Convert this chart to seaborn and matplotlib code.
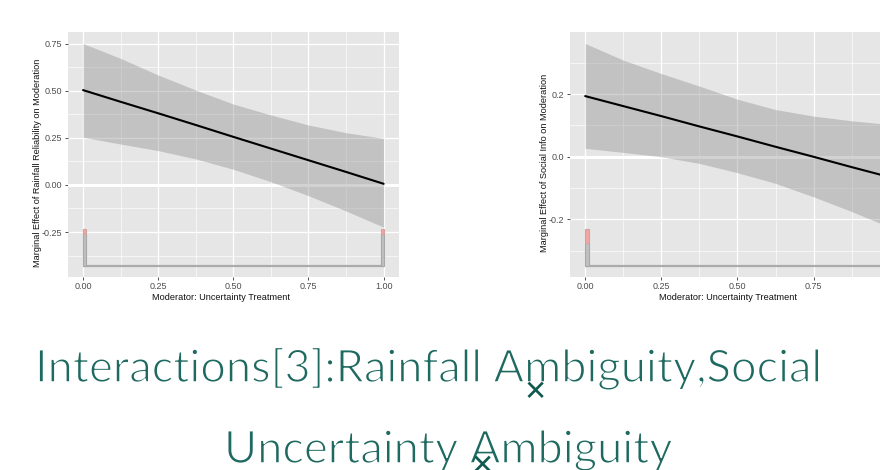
import numpy as np
import seaborn as sns
import matplotlib.pyplot as plt
import matplotlib.patheffects as pe
from matplotlib.ticker import MultipleLocator, FixedLocator

# moderator grid (Uncertainty Treatment)
x_grid = [0.0, 0.125, 0.25, 0.375, 0.5, 0.625, 0.75, 0.875, 1.0]

# panel 1: marginal effect of rainfall reliability
rain_est = [0.503, 0.441, 0.380, 0.318, 0.255, 0.193, 0.131, 0.069, 0.006]
rain_upper = [0.750, 0.671, 0.583, 0.503, 0.429, 0.371, 0.318, 0.277, 0.247]
rain_lower = [0.253, 0.217, 0.182, 0.138, 0.083, 0.017, -0.057, -0.138, -0.224]

# panel 2: marginal effect of social info
social_est = [0.194, 0.162, 0.130, 0.097, 0.065, 0.032, 0.000, -0.033, -0.065]
social_upper = [0.362, 0.309, 0.266, 0.226, 0.184, 0.151, 0.130, 0.115, 0.103]
social_lower = [0.027, 0.014, 0.000, -0.021, -0.051, -0.085, -0.128, -0.175, -0.225]

# moderator histogram (only two treatment values observed)
hist_left = [0.00, 0.99]
rain_count_grey = [175, 175]
rain_count_red = [30, 30]
social_count_grey = [106, 106]
social_count_red = [69, 69]

title_line1 = "Interactions[3]:Rainfall Ambiguity,Social"
title_line2 = "Uncertainty Ambiguity"
xlabel = "Moderator: Uncertainty Treatment"
ylabel1 = "Marginal Effect of Rainfall Reliability on Moderation"
ylabel2 = "Marginal Effect of Social Info on Moderation"

sns.set_theme(style="darkgrid")
plt.rcParams["font.family"] = ["Liberation Sans", "DejaVu Sans"]
plt.rcParams["axes.unicode_minus"] = False

PANEL_BG = "#E6E6E6"
TEAL = "#1F6A60"


def draw_panel(ax, est, upper, lower, cnt_grey, cnt_red, ylab, major, minor,
               fmt, xlab_pos, ylab_pos):
    ax.set_facecolor(PANEL_BG)
    ci_range = max(upper) - min(lower)
    base = min(lower) - 0.21 * ci_range
    totals = np.array(cnt_grey) + np.array(cnt_red)
    scale = 0.2 * ci_range / totals.max()

    ax.axhline(0, color="white", lw=2.2, zorder=0.8)
    ax.fill_between(x_grid, lower, upper, color="#7F7F7F", alpha=0.35,
                    lw=0, zorder=1)
    sns.lineplot(x=x_grid, y=est, color="black", lw=1.5, ax=ax, zorder=3)

    bw = 0.011
    ax.hlines(base, min(x_grid), max(x_grid), color="#ABABAB", lw=1.6, zorder=2)
    g = np.array(cnt_grey) * scale
    r = np.array(cnt_red) * scale
    ax.bar(hist_left, g, width=bw, bottom=base, align="edge",
           color="#C0C0C0", edgecolor="#A8A8A8", lw=0.8, zorder=2)
    ax.bar(hist_left, r, width=bw, bottom=base + g, align="edge",
           color="#F2A5A5", edgecolor="#D7A0A0", lw=0.8, zorder=2)

    lo, hi = base, max(upper)
    pad = 0.05 * (hi - lo)
    ax.set_ylim(lo - pad, hi + pad)
    ax.set_xlim(-0.05, 1.05)

    ax.xaxis.set_major_locator(FixedLocator([0, 0.25, 0.5, 0.75, 1.0]))
    ax.xaxis.set_minor_locator(MultipleLocator(0.125))
    ax.yaxis.set_major_locator(MultipleLocator(major))
    ax.yaxis.set_minor_locator(MultipleLocator(minor))
    ax.set_xticklabels(["0.00", "0.25", "0.50", "0.75", "1.00"])
    ax.yaxis.set_major_formatter(plt.FuncFormatter(lambda v, p: fmt.format(v)))

    ax.grid(which="major", color="white", lw=0.9)
    ax.grid(which="minor", color="white", lw=0.45)
    ax.set_axisbelow(True)
    for s in ax.spines.values():
        s.set_visible(False)
    ax.tick_params(which="major", length=2.5, width=0.6, color="#333333",
                   labelsize=6.5, labelcolor="#4D4D4D", pad=1.5,
                   bottom=True, left=True)
    ax.tick_params(which="minor", length=0)
    ax.set_xlabel(xlabel, fontsize=6.6, color="#111111")
    ax.set_ylabel(ylab, fontsize=6.6, color="#111111")
    ax.xaxis.set_label_coords(xlab_pos, -0.067)
    ax.yaxis.set_label_coords(ylab_pos, 0.465)


fig = plt.figure(figsize=(8.8, 4.7), dpi=100)
fig.patch.set_facecolor("white")
ax1 = fig.add_axes([0.0773, 0.411, 0.3757, 0.520])
ax2 = fig.add_axes([0.6477, 0.411, 0.3806, 0.520])

draw_panel(ax1, rain_est, rain_upper, rain_lower, rain_count_grey,
           rain_count_red, ylabel1, 0.25, 0.125, "{:.2f}", 0.463, -0.0786)
draw_panel(ax2, social_est, social_upper, social_lower, social_count_grey,
           social_count_red, ylabel2, 0.2, 0.1, "{:.1f}", 0.473, -0.062)

# thin the regular weight a little so it reads like the light slide font
thin = [pe.Stroke(linewidth=1.1, foreground="white")]
fig.text(35 / 880, 1 - 382 / 470, title_line1, fontsize=32.5, family="Lato",
         color=TEAL, ha="left", va="baseline", path_effects=thin)
fig.text(224 / 880, 1 - 463 / 470, title_line2, fontsize=32.5, family="Lato",
         color=TEAL, ha="left", va="baseline", path_effects=thin)

# stray cross marks sitting on the slide title
for cx, cy in [(535, 392), (482, 466)]:
    fig.text(cx / 880, 1 - cy / 470, "\u2715", fontsize=20, weight="bold",
             family="DejaVu Sans", color="#125A4F", ha="center", va="center")

fig.savefig("out.png", dpi=100)
